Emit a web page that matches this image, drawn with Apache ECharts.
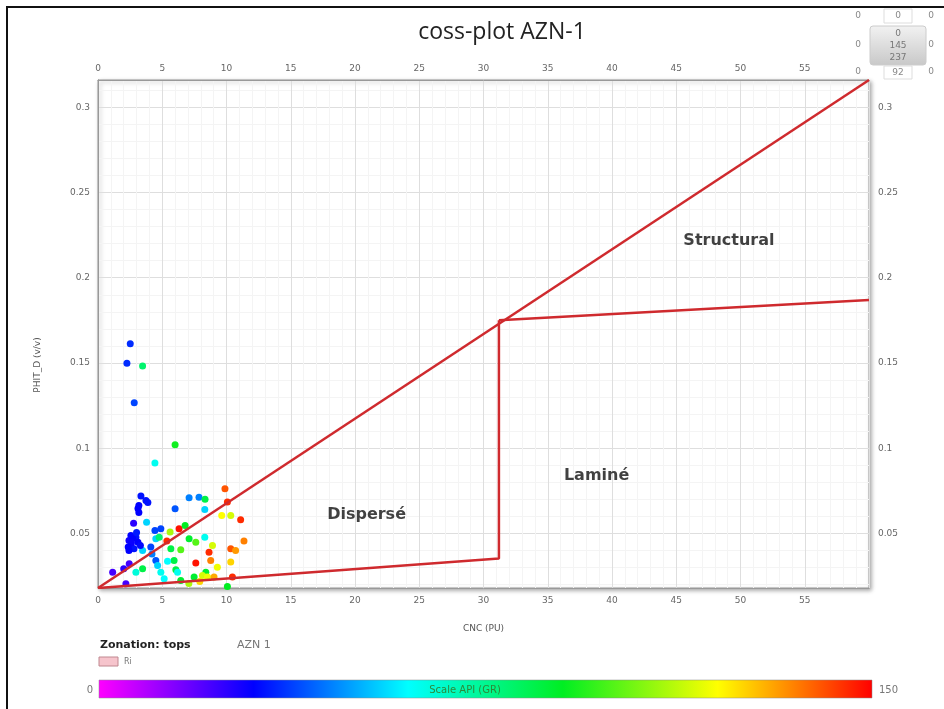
<!DOCTYPE html>
<html>
<head>
<meta charset="utf-8">
<script src="https://cdn.jsdelivr.net/npm/echarts@6/dist/echarts.min.js"></script>
<style>
  html, body { margin: 0; padding: 0; background: #fff; }
  #chart { width: 944px; height: 709px; }
</style>
</head>
<body>
<div id="chart"></div>
<script>
// points: CNC (PU), PHIT_D (v/v), GR (API)
const cnc = [2.51, 2.25, 3.47, 2.82, 6.0, 4.43, 3.34, 3.73, 3.88, 3.18, 3.11, 3.18, 7.09, 7.86, 8.33, 9.88, 10.07, 6.0, 8.31, 9.63,
  10.33, 11.1, 2.77, 3.78, 4.43, 4.89, 5.61, 6.31, 6.78, 2.56, 2.95, 2.41, 3.11, 2.56, 2.80, 2.41, 3.47, 4.11, 4.50, 4.76,
  5.36, 7.09, 7.61, 8.31, 8.91, 8.64, 10.33, 10.71, 11.36, 5.67, 6.44, 4.50, 4.64, 3.47, 2.95, 2.43, 2.0, 1.14, 4.89, 6.06,
  5.92, 5.41, 6.19, 7.61, 8.77, 9.29, 10.33, 8.39, 8.13, 8.52, 9.03, 10.46, 7.48, 6.44, 5.15, 2.17, 10.07, 7.92, 7.07,
  2.70, 3.30, 2.60, 3.00, 4.20, 2.35];
const phit = [0.1613, 0.1499, 0.1482, 0.1267, 0.1021, 0.0913, 0.0719, 0.0694, 0.0682, 0.0664, 0.0647, 0.0623, 0.0710, 0.0713, 0.0700, 0.0762, 0.0684, 0.0645, 0.0641, 0.0606,
  0.0606, 0.0580, 0.0560, 0.0565, 0.0518, 0.0528, 0.0508, 0.0528, 0.0547, 0.0488, 0.0478, 0.0459, 0.0449, 0.0430, 0.0410, 0.0400, 0.0400, 0.0420, 0.0469, 0.0478,
  0.0455, 0.0469, 0.0449, 0.0478, 0.0430, 0.0390, 0.0410, 0.0400, 0.0455, 0.0410, 0.0404, 0.0342, 0.0312, 0.0293, 0.0273, 0.0322, 0.0293, 0.0273, 0.0273, 0.0287,
  0.0342, 0.0337, 0.0273, 0.0326, 0.0342, 0.0302, 0.0332, 0.0273, 0.0254, 0.0244, 0.0244, 0.0244, 0.0244, 0.0224, 0.0234, 0.0205, 0.0189, 0.0218, 0.0207,
  0.0470, 0.0430, 0.0445, 0.0505, 0.0380, 0.0420];
const gr = [35, 35, 80, 38, 92, 62, 32, 32, 32, 30, 30, 30, 45, 45, 85, 140, 145, 40, 55, 120,
  115, 145, 25, 55, 38, 38, 110, 148, 90, 30, 32, 28, 30, 30, 32, 30, 55, 38, 55, 80,
  145, 88, 100, 62, 115, 145, 140, 132, 135, 85, 100, 40, 55, 85, 65, 22, 25, 22, 62, 85,
  85, 60, 62, 148, 135, 118, 125, 88, 115, 118, 130, 145, 88, 88, 60, 22, 90, 125, 110,
  30, 31, 29, 33, 45, 30];

// zone boundaries
const lineUpper = [[0, 0.018], [60, 0.316]];
const lineLowerAndVertical = [[0, 0.018], [31.2, 0.0353], [31.2, 0.175]];
const lineStructural = [[31.2, 0.175], [60, 0.187]];

// zone names
const zoneNames = ['Structural', 'Laminé', 'Dispersé'];
const zoneAnchors = [[49.1, 0.2214], [38.8, 0.084], [20.9, 0.0612]];

const grColors = ['#ff00ff', '#0000ff', '#00ffff', '#00ee22', '#ffff00', '#ff0000'];

const points = cnc.map((x, i) => [x, phit[i], gr[i]]);

const chart = echarts.init(document.getElementById('chart'));

const labelFont = { fontFamily: 'DejaVu Sans', fontSize: 9, color: '#666' };
const redLine = { color: '#cf2a2e', width: 2.5 };

const option = {
  backgroundColor: '#fff',
  animation: false,
  title: {
    text: 'coss-plot AZN-1',
    left: 497,
    top: 16,
    textAlign: 'center',
    textStyle: { fontFamily: 'Open Sans', fontSize: 23, fontWeight: 'normal', color: '#222' }
  },
  grid: {
    left: 98, right: 75, top: 80, bottom: 121,
    show: true,
    backgroundColor: '#fff',
    borderColor: '#999',
    borderWidth: 1,
    shadowColor: 'rgba(0,0,0,0.35)',
    shadowBlur: 4,
    shadowOffsetX: 2,
    shadowOffsetY: 2
  },
  visualMap: {
    show: false,
    type: 'continuous',
    seriesIndex: 0,
    dimension: 2,
    min: 0,
    max: 150,
    inRange: { color: grColors }
  },
  xAxis: [
    {
      type: 'value', position: 'bottom', min: 0, max: 60, interval: 5,
      name: 'CNC (PU)', nameLocation: 'middle', nameGap: 36,
      nameTextStyle: { fontFamily: 'DejaVu Sans', fontSize: 9, color: '#555' },
      axisLine: { show: true, lineStyle: { color: '#999' } },
      axisTick: { show: false },
      axisLabel: Object.assign({ margin: 8, showMaxLabel: false }, labelFont),
      splitLine: { show: true, lineStyle: { color: '#dedede' } },
      minorTick: { show: false, splitNumber: 5 },
      minorSplitLine: { show: true, lineStyle: { color: '#f4f4f4' } }
    },
    {
      type: 'value', position: 'top', min: 0, max: 60, interval: 5,
      axisLine: { show: true, lineStyle: { color: '#999' } },
      axisTick: { show: false },
      axisLabel: Object.assign({ margin: 7, showMaxLabel: false }, labelFont),
      splitLine: { show: false }
    }
  ],
  yAxis: [
    {
      type: 'value', position: 'left', min: 0.018, max: 0.316, splitNumber: 6,
      axisLine: { show: true, lineStyle: { color: '#999' } },
      axisTick: { show: false },
      axisLabel: Object.assign({ margin: 8, showMinLabel: false, showMaxLabel: false }, labelFont),
      splitLine: { show: true, lineStyle: { color: '#dedede' } },
      minorTick: { show: false, splitNumber: 5 },
      minorSplitLine: { show: true, lineStyle: { color: '#f4f4f4' } }
    },
    {
      type: 'value', position: 'right', min: 0.018, max: 0.316, splitNumber: 6,
      axisLine: { show: true, lineStyle: { color: '#999' } },
      axisTick: { show: false },
      axisLabel: Object.assign({ margin: 9, showMinLabel: false, showMaxLabel: false }, labelFont),
      splitLine: { show: false }
    }
  ],
  series: [
    {
      type: 'scatter',
      data: points,
      symbolSize: 7,
      itemStyle: { opacity: 1 },
      z: 3
    },
    { type: 'line', data: lineUpper, symbol: 'none', lineStyle: redLine, z: 4 },
    { type: 'line', data: lineLowerAndVertical, symbol: 'none', lineStyle: redLine, z: 4 },
    { type: 'line', data: lineStructural, symbol: 'none', lineStyle: redLine, z: 4 },
    {
      type: 'scatter',
      data: zoneAnchors.map((p, i) => ({ name: zoneNames[i], value: p })),
      symbolSize: 0,
      silent: true,
      label: {
        show: true, position: 'inside', formatter: '{b}',
        fontFamily: 'DejaVu Sans', fontWeight: 'bold', fontSize: 16, color: '#111'
      },
      z: 5
    }
  ],
  graphic: [
    // window frame
    { type: 'line', shape: { x1: 6, y1: 7, x2: 944, y2: 7 }, style: { stroke: '#111', lineWidth: 2 } },
    { type: 'line', shape: { x1: 7, y1: 6, x2: 7, y2: 709 }, style: { stroke: '#111', lineWidth: 2 } },
    // y axis title
    {
      type: 'text', x: 38, y: 365, rotation: Math.PI / 2,
      style: { text: 'PHIT_D (v/v)', fontFamily: 'DejaVu Sans', fontSize: 9, fill: '#555', align: 'center', verticalAlign: 'middle' }
    },
    // navigation box top right
    { type: 'rect', shape: { x: 884, y: 9, width: 28, height: 14 }, style: { fill: '#fff', stroke: '#ddd' } },
    {
      type: 'rect', shape: { x: 870, y: 26, width: 56, height: 39, r: 3 },
      style: {
        stroke: '#ccc',
        fill: new echarts.graphic.LinearGradient(0, 0, 0, 1, [
          { offset: 0, color: '#f2f2f2' }, { offset: 1, color: '#c8c8c8' }
        ])
      }
    },
    { type: 'rect', shape: { x: 884, y: 66, width: 28, height: 13 }, style: { fill: '#fff', stroke: '#ddd' } },
    { type: 'text', x: 898, y: 16, style: { text: '0', font: '9px DejaVu Sans', fill: '#888', align: 'center', verticalAlign: 'middle' } },
    { type: 'text', x: 858, y: 16, style: { text: '0', font: '9px DejaVu Sans', fill: '#888', align: 'center', verticalAlign: 'middle' } },
    { type: 'text', x: 931, y: 16, style: { text: '0', font: '9px DejaVu Sans', fill: '#888', align: 'center', verticalAlign: 'middle' } },
    { type: 'text', x: 898, y: 34, style: { text: '0', font: '9px DejaVu Sans', fill: '#777', align: 'center', verticalAlign: 'middle' } },
    { type: 'text', x: 898, y: 46, style: { text: '145', font: '9px DejaVu Sans', fill: '#777', align: 'center', verticalAlign: 'middle' } },
    { type: 'text', x: 898, y: 58, style: { text: '237', font: '9px DejaVu Sans', fill: '#777', align: 'center', verticalAlign: 'middle' } },
    { type: 'text', x: 858, y: 45, style: { text: '0', font: '9px DejaVu Sans', fill: '#888', align: 'center', verticalAlign: 'middle' } },
    { type: 'text', x: 931, y: 45, style: { text: '0', font: '9px DejaVu Sans', fill: '#888', align: 'center', verticalAlign: 'middle' } },
    { type: 'text', x: 858, y: 72, style: { text: '0', font: '9px DejaVu Sans', fill: '#888', align: 'center', verticalAlign: 'middle' } },
    { type: 'text', x: 898, y: 73, style: { text: '92', font: '9px DejaVu Sans', fill: '#888', align: 'center', verticalAlign: 'middle' } },
    { type: 'text', x: 931, y: 72, style: { text: '0', font: '9px DejaVu Sans', fill: '#888', align: 'center', verticalAlign: 'middle' } },
    // zonation legend
    { type: 'text', x: 100, y: 645, style: { text: 'Zonation: tops', font: 'bold 11px DejaVu Sans', fill: '#222', verticalAlign: 'middle' } },
    { type: 'text', x: 237, y: 645, style: { text: 'AZN 1', font: '11px DejaVu Sans', fill: '#777', verticalAlign: 'middle' } },
    { type: 'rect', shape: { x: 99, y: 657, width: 19, height: 9 }, style: { fill: '#f6c4cc', stroke: '#c08890' } },
    { type: 'text', x: 124, y: 662, style: { text: 'Ri', font: '8px DejaVu Sans', fill: '#777', verticalAlign: 'middle' } },
    // GR colour scale
    {
      type: 'rect', shape: { x: 99, y: 680, width: 773, height: 18 },
      style: {
        stroke: '#888', lineWidth: 0.5,
        fill: new echarts.graphic.LinearGradient(0, 0, 1, 0,
          grColors.map((c, i) => ({ offset: i / (grColors.length - 1), color: c })))
      }
    },
    { type: 'text', x: 465, y: 690, style: { text: 'Scale API (GR)', font: '10px DejaVu Sans', fill: '#2c8a3a', align: 'center', verticalAlign: 'middle' } },
    { type: 'text', x: 93, y: 690, style: { text: '0', font: '10px DejaVu Sans', fill: '#777', align: 'right', verticalAlign: 'middle' } },
    { type: 'text', x: 879, y: 690, style: { text: '150', font: '10px DejaVu Sans', fill: '#777', verticalAlign: 'middle' } }
  ]
};

chart.setOption(option);
</script>
</body>
</html>
